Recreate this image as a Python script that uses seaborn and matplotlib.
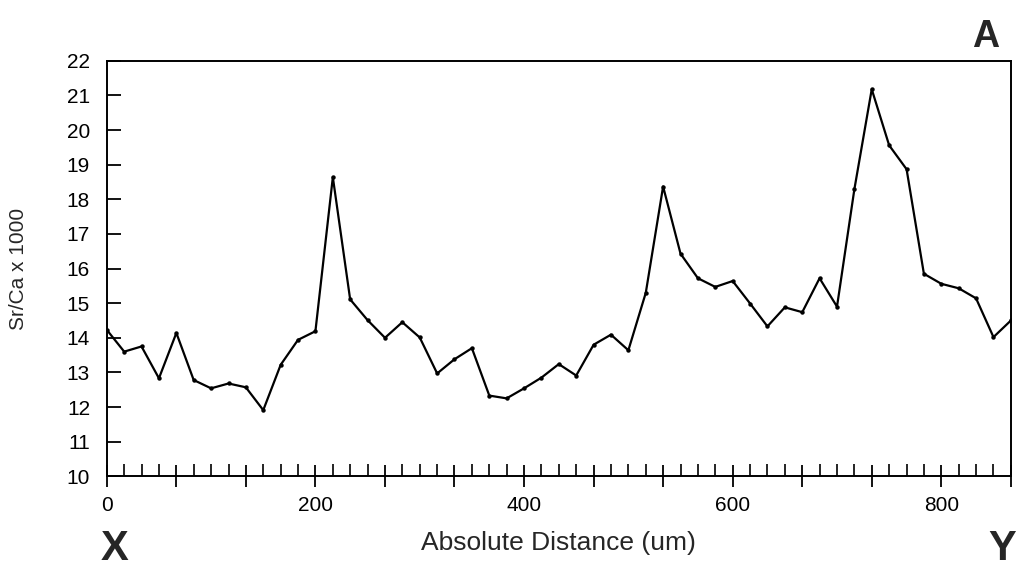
import numpy as np
import pandas as pd
import matplotlib
matplotlib.use("Agg")
import matplotlib.pyplot as plt
from matplotlib.ticker import FixedLocator, FuncFormatter
import seaborn as sns

# ---- data ----
distance_um = [0.0, 16.7, 33.3, 50.0, 66.7, 83.3, 100.0, 116.7, 133.3, 150.0,
               166.7, 183.3, 200.0, 216.7, 233.3, 250.0, 266.7, 283.3, 300.0, 316.7,
               333.3, 350.0, 366.7, 383.3, 400.0, 416.7, 433.3, 450.0, 466.7, 483.3,
               500.0, 516.7, 533.3, 550.0, 566.7, 583.3, 600.0, 616.7, 633.3, 650.0,
               666.7, 683.3, 700.0, 716.7, 733.3, 750.0, 766.7, 783.3, 800.0, 816.7,
               833.3, 850.0, 866.7]
sr_ca_x1000 = [14.23, 13.60, 13.75, 12.83, 14.14, 12.78, 12.54, 12.68, 12.57, 11.91,
               13.22, 13.94, 14.19, 18.64, 15.11, 14.51, 14.00, 14.45, 14.01, 12.97,
               13.38, 13.70, 12.33, 12.25, 12.54, 12.85, 13.24, 12.91, 13.80, 14.09,
               13.64, 15.30, 18.37, 16.43, 15.72, 15.47, 15.64, 14.99, 14.33, 14.88,
               14.74, 15.72, 14.90, 18.30, 21.18, 19.56, 18.87, 15.85, 15.56, 15.43,
               15.14, 14.02, 14.50]
y_ticks = list(range(10, 23))
x_tick_labels = [0, 200, 400, 600, 800]
x_major_ticks = [0.0, 66.7, 133.3, 200.0, 266.7, 333.3, 400.0, 466.7, 533.3,
                 600.0, 666.7, 733.3, 800.0, 866.7]

df = pd.DataFrame({"dist": distance_um, "ratio": sr_ca_x1000})

sns.set_theme(style="ticks")
plt.rcParams["font.family"] = ["Liberation Sans", "DejaVu Sans"]

fig = plt.figure(figsize=(10.17, 5.69), dpi=100)
ax = fig.add_axes([0.105, 0.163, 0.889, 0.730])

sns.lineplot(data=df, x="dist", y="ratio", ax=ax, color="black", linewidth=1.6,
             marker="o", markersize=3.2, markeredgewidth=0, sort=False)

ax.set_xlim(0, 866.7)
ax.set_ylim(10, 22)

for s in ax.spines.values():
    s.set_color("black")
    s.set_linewidth(1.4)

ax.yaxis.set_major_locator(FixedLocator(y_ticks))
ax.tick_params(axis="y", direction="in", length=10, width=1.3, colors="black",
               labelsize=15, pad=12, right=False)

ax.xaxis.set_major_locator(FixedLocator(x_major_ticks))
ax.xaxis.set_major_formatter(FuncFormatter(
    lambda v, p: str(int(round(v))) if any(abs(v - t) < 0.5 for t in x_tick_labels) else ""))
minor = [m for m in np.array(distance_um) if all(abs(m - t) > 1 for t in x_major_ticks)]
ax.xaxis.set_minor_locator(FixedLocator(minor))
ax.tick_params(axis="x", which="major", direction="inout", length=16, width=1.3,
               colors="black", labelsize=15, pad=6, top=False)
ax.tick_params(axis="x", which="minor", direction="in", length=9, width=1.2,
               colors="black", top=False)

ax.set_xlabel("Absolute Distance (um)", fontsize=19, labelpad=12)
ax.set_ylabel("Sr/Ca x 1000", fontsize=15, labelpad=28)
ax.grid(False)

fig.text(0.969, 0.935, "A", fontsize=27, fontweight="bold", ha="center", va="center")
fig.text(0.113, 0.035, "X", fontsize=30, fontweight="bold", ha="center", va="center")
fig.text(0.999, 0.035, "Y", fontsize=30, fontweight="bold", ha="right", va="center")

fig.savefig("out.png", dpi=100, facecolor="white")
